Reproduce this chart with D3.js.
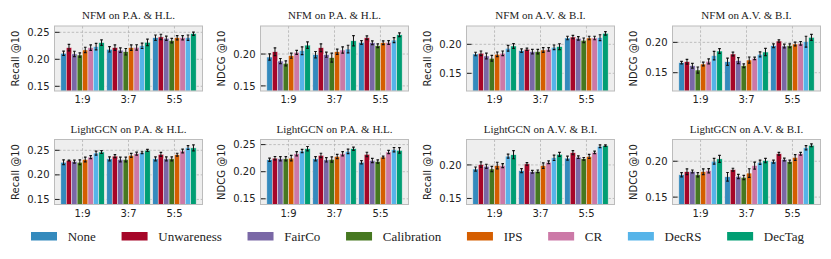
<!DOCTYPE html>
<html>
<head>
<meta charset="utf-8">
<script src="https://cdn.jsdelivr.net/npm/d3@7"></script>
<style>
  body { margin: 0; background: #fff; }
  svg { display: block; }
</style>
</head>
<body>
<div id="chart"></div>
<script>
// ---- data ----
let methods = ["None", "Unwareness", "FairCo", "Calibration", "IPS", "CR", "DecRS", "DecTag"];
let ratios = ["1:9", "3:7", "5:5"];
let colors = ["#348ABD", "#A60628", "#7A68A6", "#467821", "#D55E00", "#CC79A7", "#56B4E9", "#009E73"];

let titles = [
    "NFM on P.A. & H.L.", "NFM on P.A. & H.L.", "NFM on A.V. & B.I.", "NFM on A.V. & B.I.",
    "LightGCN on P.A. & H.L.", "LightGCN on P.A. & H.L.", "LightGCN on A.V. & B.I.", "LightGCN on A.V. & B.I."
];
let yLabels = ["Recall @10", "NDCG @10", "Recall @10", "NDCG @10", "Recall @10", "NDCG @10", "Recall @10", "NDCG @10"];
let yTicks = [
    [0.15, 0.20, 0.25], [0.15, 0.20], [0.15, 0.20], [0.15, 0.20],
    [0.15, 0.20, 0.25], [0.15, 0.20, 0.25], [0.15, 0.20], [0.15, 0.20]
];
let yDomains = [
    [0.1413, 0.2617], [0.142, 0.244], [0.1195, 0.2316], [0.1198, 0.227],
    [0.1397, 0.272], [0.1395, 0.2594], [0.141, 0.2379], [0.1397, 0.2303]
];

// values: one row per ratio, one entry per method
let nfmPaRecall = [
    [0.2111, 0.2216, 0.2099, 0.2080, 0.2173, 0.2216, 0.2235, 0.2309],
    [0.2185, 0.2216, 0.2170, 0.2140, 0.2216, 0.2220, 0.2250, 0.2315],
    [0.2400, 0.2414, 0.2390, 0.2346, 0.2400, 0.2400, 0.2400, 0.2475]
];
let nfmPaNdcg = [
    [0.1953, 0.2036, 0.1890, 0.1854, 0.1974, 0.2026, 0.2052, 0.2140],
    [0.1990, 0.2099, 0.1990, 0.1943, 0.2036, 0.2063, 0.2078, 0.2208],
    [0.2182, 0.2255, 0.2177, 0.2130, 0.2177, 0.2182, 0.2219, 0.2302]
];
let nfmAvRecall = [
    [0.1833, 0.1845, 0.1799, 0.1759, 0.1828, 0.1845, 0.1931, 0.1971],
    [0.1891, 0.1914, 0.1874, 0.1874, 0.1902, 0.1914, 0.1948, 0.1960],
    [0.2109, 0.2126, 0.2103, 0.2069, 0.2109, 0.2109, 0.2115, 0.2190]
];
let nfmAvNdcg = [
    [0.1665, 0.1681, 0.1615, 0.1544, 0.1643, 0.1687, 0.1780, 0.1857],
    [0.1681, 0.1808, 0.1698, 0.1615, 0.1709, 0.1736, 0.1802, 0.1841],
    [0.1945, 0.2022, 0.1940, 0.1945, 0.1973, 0.1984, 0.2011, 0.2082]
];
let lgcnPaRecall = [
    [0.2257, 0.2292, 0.2271, 0.2257, 0.2313, 0.2361, 0.2444, 0.2465],
    [0.2326, 0.2382, 0.2313, 0.2313, 0.2396, 0.2431, 0.2451, 0.2500],
    [0.2326, 0.2417, 0.2326, 0.2326, 0.2410, 0.2486, 0.2556, 0.2549]
];
let lgcnPaNdcg = [
    [0.2219, 0.2250, 0.2238, 0.2238, 0.2250, 0.2331, 0.2381, 0.2425],
    [0.2238, 0.2300, 0.2219, 0.2225, 0.2281, 0.2331, 0.2375, 0.2425],
    [0.2175, 0.2319, 0.2206, 0.2188, 0.2269, 0.2363, 0.2406, 0.2394]
];
let lgcnAvRecall = [
    [0.1939, 0.2005, 0.1980, 0.1939, 0.1990, 0.1990, 0.2131, 0.2152],
    [0.1914, 0.2015, 0.1899, 0.1904, 0.1990, 0.2040, 0.2106, 0.2157],
    [0.2101, 0.2182, 0.2116, 0.2091, 0.2126, 0.2187, 0.2278, 0.2288]
];
let lgcnAvNdcg = [
    [0.1811, 0.1854, 0.1858, 0.1811, 0.1854, 0.1868, 0.2000, 0.2033],
    [0.1783, 0.1882, 0.1788, 0.1774, 0.1835, 0.1939, 0.1986, 0.2009],
    [0.1995, 0.2104, 0.2024, 0.1995, 0.2052, 0.2104, 0.2189, 0.2222]
];

// error bar half-lengths, same layout
let nfmPaRecallErr = [
    [0.004, 0.006, 0.005, 0.004, 0.005, 0.005, 0.006, 0.005],
    [0.005, 0.005, 0.004, 0.006, 0.005, 0.005, 0.005, 0.006],
    [0.005, 0.005, 0.004, 0.004, 0.004, 0.004, 0.005, 0.003]
];
let nfmPaNdcgErr = [
    [0.005, 0.006, 0.004, 0.004, 0.004, 0.003, 0.006, 0.005],
    [0.005, 0.006, 0.004, 0.007, 0.004, 0.005, 0.006, 0.008],
    [0.003, 0.003, 0.003, 0.003, 0.003, 0.003, 0.004, 0.003]
];
let nfmAvRecallErr = [
    [0.003, 0.004, 0.005, 0.005, 0.004, 0.004, 0.005, 0.004],
    [0.003, 0.002, 0.004, 0.004, 0.004, 0.003, 0.004, 0.005],
    [0.003, 0.003, 0.003, 0.004, 0.003, 0.003, 0.005, 0.003]
];
let nfmAvNdcgErr = [
    [0.002, 0.004, 0.004, 0.005, 0.003, 0.004, 0.007, 0.004],
    [0.006, 0.003, 0.005, 0.003, 0.005, 0.002, 0.004, 0.006],
    [0.003, 0.002, 0.003, 0.003, 0.003, 0.003, 0.009, 0.005]
];
let lgcnPaRecallErr = [
    [0.005, 0.001, 0.003, 0.005, 0.005, 0.003, 0.004, 0.003],
    [0.004, 0.003, 0.005, 0.005, 0.004, 0.003, 0.002, 0.002],
    [0.004, 0.004, 0.004, 0.004, 0.003, 0.004, 0.004, 0.006]
];
let lgcnPaNdcgErr = [
    [0.003, 0.003, 0.004, 0.004, 0.005, 0.004, 0.003, 0.004],
    [0.004, 0.004, 0.004, 0.005, 0.004, 0.004, 0.004, 0.003],
    [0.003, 0.004, 0.004, 0.003, 0.002, 0.003, 0.004, 0.005]
];
let lgcnAvRecallErr = [
    [0.003, 0.004, 0.003, 0.004, 0.005, 0.003, 0.003, 0.006],
    [0.003, 0.002, 0.002, 0.002, 0.004, 0.002, 0.004, 0.003],
    [0.003, 0.003, 0.002, 0.002, 0.003, 0.002, 0.002, 0.001]
];
let lgcnAvNdcgErr = [
    [0.003, 0.004, 0.002, 0.003, 0.004, 0.003, 0.004, 0.005],
    [0.006, 0.002, 0.003, 0.003, 0.006, 0.005, 0.003, 0.003],
    [0.002, 0.002, 0.002, 0.002, 0.004, 0.002, 0.003, 0.002]
];

let panelValues = [nfmPaRecall, nfmPaNdcg, nfmAvRecall, nfmAvNdcg, lgcnPaRecall, lgcnPaNdcg, lgcnAvRecall, lgcnAvNdcg];
let panelErrors = [nfmPaRecallErr, nfmPaNdcgErr, nfmAvRecallErr, nfmAvNdcgErr, lgcnPaRecallErr, lgcnPaNdcgErr, lgcnAvRecallErr, lgcnAvNdcgErr];

// ---- layout ----
let svgWidth = 831;
let svgHeight = 259;
let colLefts = [54.5, 260.5, 466.5, 672.5];
let rowTops = [26, 139.5];
let plotW = 148;
let plotH = 65;
let serif = "'Liberation Serif', 'Times New Roman', serif";
let sans = "'DejaVu Sans', sans-serif";

let svg = d3.select("#chart")
    .append("svg")
    .attr("width", svgWidth)
    .attr("height", svgHeight);

panelValues.forEach(function (vals, p) {
    let left = colLefts[p % 4];
    let top = rowTops[Math.floor(p / 4)];
    let g = svg.append("g").attr("transform", `translate(${left}, ${top})`);

    let x = d3.scaleLinear().domain([-0.61, 2.61]).range([0, plotW]);
    let y = d3.scaleLinear().domain(yDomains[p]).range([plotH, 0]);
    let barW = 0.118;

    // background
    g.append("rect")
        .attr("width", plotW)
        .attr("height", plotH)
        .attr("fill", "#eeeeee");

    // grid
    g.selectAll(".hgrid")
        .data(yTicks[p])
        .enter()
        .append("line")
        .attr("x1", 0).attr("x2", plotW)
        .attr("y1", d => y(d)).attr("y2", d => y(d))
        .attr("stroke", "#b2b2b2")
        .attr("stroke-width", 0.8)
        .attr("stroke-dasharray", "2.5,1.8");
    g.selectAll(".vgrid")
        .data(ratios)
        .enter()
        .append("line")
        .attr("y1", 0).attr("y2", plotH)
        .attr("x1", (d, i) => x(i)).attr("x2", (d, i) => x(i))
        .attr("stroke", "#b2b2b2")
        .attr("stroke-width", 0.8)
        .attr("stroke-dasharray", "2.5,1.8");

    // bars
    let clip = "clip" + p;
    g.append("clipPath").attr("id", clip)
        .append("rect").attr("width", plotW).attr("height", plotH);
    let barsG = g.append("g").attr("clip-path", `url(#${clip})`);

    vals.forEach(function (row, gi) {
        row.forEach(function (v, mi) {
            let cx = gi + (mi - 3.5) * barW;
            let x0 = x(cx - barW / 2);
            let x1 = x(cx + barW / 2);
            barsG.append("rect")
                .attr("x", x0)
                .attr("y", y(v))
                .attr("width", x1 - x0)
                .attr("height", plotH - y(v))
                .attr("fill", colors[mi])
                .attr("stroke", "#eeeeee")
                .attr("stroke-width", 0.5);

            let e = panelErrors[p][gi][mi];
            let ex = x(cx);
            barsG.append("line")
                .attr("x1", ex).attr("x2", ex)
                .attr("y1", y(v - e)).attr("y2", y(v + e))
                .attr("stroke", "#111")
                .attr("stroke-width", 1);
            [v - e, v + e].forEach(function (c) {
                barsG.append("line")
                    .attr("x1", ex - 1.3).attr("x2", ex + 1.3)
                    .attr("y1", y(c)).attr("y2", y(c))
                    .attr("stroke", "#111")
                    .attr("stroke-width", 1.2);
            });
        });
    });

    // frame
    g.append("rect")
        .attr("width", plotW)
        .attr("height", plotH)
        .attr("fill", "none")
        .attr("stroke", "#bcbcbc")
        .attr("stroke-width", 1);

    // y ticks (inward) and labels
    yTicks[p].forEach(function (t) {
        g.append("line")
            .attr("x1", 0.5).attr("x2", 5)
            .attr("y1", y(t)).attr("y2", y(t))
            .attr("stroke", "#222")
            .attr("stroke-width", 1);
        g.append("text")
            .attr("x", -5)
            .attr("y", y(t))
            .attr("dy", "0.36em")
            .attr("text-anchor", "end")
            .attr("font-family", sans)
            .attr("font-size", "10px")
            .attr("fill", "#222")
            .text(d3.format(".2f")(t));
    });

    // x labels
    ratios.forEach(function (r, i) {
        g.append("text")
            .attr("x", x(i))
            .attr("y", plotH + 12)
            .attr("text-anchor", "middle")
            .attr("font-family", sans)
            .attr("font-size", "10px")
            .attr("fill", "#222")
            .text(r);
    });

    // y label
    g.append("text")
        .attr("transform", `translate(-39, ${plotH / 2}) rotate(-90)`)
        .attr("dy", "0.35em")
        .attr("text-anchor", "middle")
        .attr("font-family", sans)
        .attr("font-size", "10px")
        .attr("fill", "#222")
        .text(yLabels[p]);

    // title
    g.append("text")
        .attr("x", plotW / 2)
        .attr("y", -7)
        .attr("text-anchor", "middle")
        .attr("font-family", serif)
        .attr("font-size", "11px")
        .attr("fill", "#222")
        .text(titles[p]);
});

// ---- legend ----
let legend = svg.append("g").attr("transform", "translate(31, 232)");
let lx = 0;
methods.forEach(function (m, i) {
    legend.append("rect")
        .attr("x", lx)
        .attr("y", 0)
        .attr("width", 26)
        .attr("height", 8.5)
        .attr("fill", colors[i]);
    let t = legend.append("text")
        .attr("x", lx + 36.7)
        .attr("y", 4.25)
        .attr("dy", "0.35em")
        .attr("font-family", serif)
        .attr("font-size", "13px")
        .attr("fill", "#222")
        .text(m);
    lx += 36.7 + t.node().getComputedTextLength() + 25.7;
});
</script>
</body>
</html>
